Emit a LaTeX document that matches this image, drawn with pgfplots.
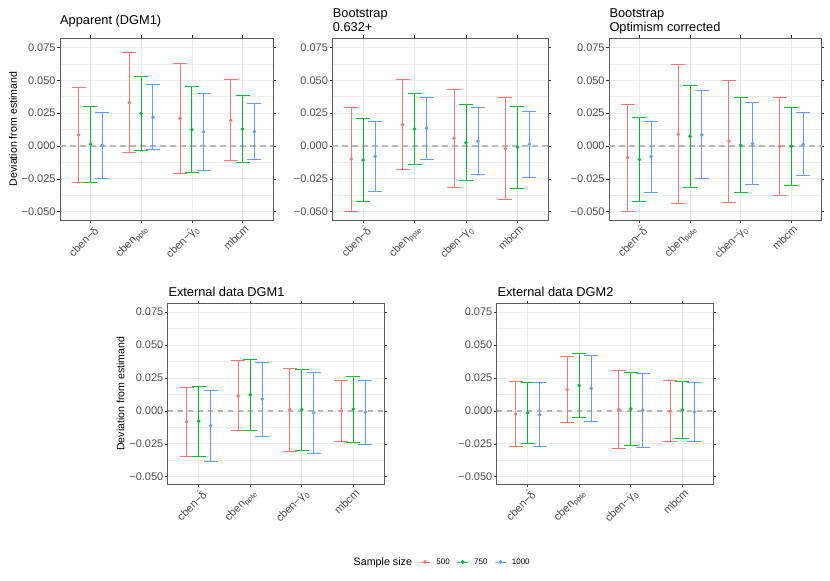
\documentclass[border=0pt]{standalone}
\usepackage{pgfplots}
\pgfplotsset{compat=1.18}
\usepackage{pgfplotstable}
\usepackage{amsmath}
\usepackage{fontspec}
\setmainfont{Liberation Sans}
\definecolor{c500}{HTML}{F8766D}
\definecolor{c750}{HTML}{00BA38}
\definecolor{c1000}{HTML}{619CFF}
\definecolor{grey92}{HTML}{EBEBEB}
\definecolor{grey20}{HTML}{333333}
\definecolor{grey30}{HTML}{4D4D4D}
\definecolor{zline}{HTML}{B8B8B8}

% columns: category, then (estimate, lower, upper) for n = 500, 750, 1000
\pgfplotstableread{
c y1 l1 h1 y2 l2 h2 y3 l3 h3
1 0.0084 -0.0274 0.0442 0.0013 -0.0274 0.0297 0.0005 -0.0244 0.0254
2 0.0330 -0.0046 0.0708 0.0246 -0.0036 0.0525 0.0218 -0.0030 0.0467
3 0.0211 -0.0206 0.0627 0.0124 -0.0203 0.0452 0.0107 -0.0185 0.0396
4 0.0195 -0.0112 0.0503 0.0129 -0.0124 0.0381 0.0109 -0.0104 0.0320
}\Pone
\pgfplotstableread{
c y1 l1 h1 y2 l2 h2 y3 l3 h3
1 -0.0099 -0.0495 0.0294 -0.0107 -0.0421 0.0208 -0.0079 -0.0343 0.0185
2 0.0162 -0.0180 0.0503 0.0129 -0.0137 0.0396 0.0135 -0.0104 0.0368
3 0.0058 -0.0317 0.0426 0.0025 -0.0264 0.0317 0.0036 -0.0218 0.0289
4 -0.0020 -0.0409 0.0371 -0.0010 -0.0320 0.0297 0.0013 -0.0239 0.0261
}\Ptwo
\pgfplotstableread{
c y1 l1 h1 y2 l2 h2 y3 l3 h3
1 -0.0089 -0.0497 0.0317 -0.0104 -0.0421 0.0213 -0.0079 -0.0350 0.0190
2 0.0089 -0.0439 0.0617 0.0074 -0.0312 0.0462 0.0084 -0.0251 0.0419
3 0.0036 -0.0429 0.0497 0.0005 -0.0355 0.0365 0.0018 -0.0294 0.0330
4 -0.0003 -0.0373 0.0368 -0.0003 -0.0300 0.0289 0.0013 -0.0228 0.0254
}\Pthree
\pgfplotstableread{
c y1 l1 h1 y2 l2 h2 y3 l3 h3
1 -0.0084 -0.0345 0.0175 -0.0079 -0.0345 0.0185 -0.0112 -0.0385 0.0155
2 0.0114 -0.0152 0.0380 0.0122 -0.0152 0.0390 0.0089 -0.0193 0.0370
3 0.0010 -0.0309 0.0325 0.0010 -0.0299 0.0314 -0.0015 -0.0327 0.0292
4 0.0000 -0.0233 0.0228 0.0013 -0.0243 0.0259 -0.0010 -0.0256 0.0233
}\Pfour
\pgfplotstableread{
c y1 l1 h1 y2 l2 h2 y3 l3 h3
1 -0.0025 -0.0274 0.0223 -0.0015 -0.0251 0.0218 -0.0030 -0.0274 0.0213
2 0.0162 -0.0091 0.0413 0.0193 -0.0051 0.0436 0.0170 -0.0079 0.0418
3 0.0010 -0.0289 0.0304 0.0015 -0.0264 0.0292 0.0005 -0.0281 0.0287
4 -0.0003 -0.0233 0.0228 0.0008 -0.0210 0.0223 -0.0008 -0.0233 0.0213
}\Pfive

\pgfplotsset{
  panel/.style={
    scale only axis,
    xmin=0.4, xmax=4.6,
    xtick={1,2,3,4},
    xticklabels={cben−$\hat{\text{δ}}$, cben$_{\text{ppte}}$, cben−$\hat{\text{γ}}_{\text{0}}$, mbcm},
    ytick={-0.05,-0.025,0,0.025,0.05,0.075},
    yticklabels={−0.050,−0.025,0.000,0.025,0.050,0.075},
    scaled y ticks=false,
    minor ytick={-0.0375,-0.0125,0.0125,0.0375,0.0625},
    grid=both,
    major grid style={color=grey92, line width=0.7bp},
    minor grid style={color=grey92, line width=0.4bp},
    axis line style={color=grey20!80, line width=0.7bp},
    tick style={color=grey20, line width=0.6bp},
    tick align=outside,
    major tick length=2.7bp,
    minor tick length=0pt,
    yticklabel style={font=\fontsize{11bp}{13bp}\selectfont, text=grey30, inner sep=0pt, anchor=east, xshift=-1.5bp},
    xticklabel style={font=\fontsize{11bp}{13bp}\selectfont, text=grey30, inner sep=0pt, rotate=45, anchor=north east, yshift=-1.5bp},
    ylabel style={font=\fontsize{10.6bp}{12bp}\selectfont, at={(rel axis cs:0,0.5)}, anchor=center, rotate=0, yshift=47bp},
    clip=false,
  },
  ser/.style={color=#1, only marks, mark=*, mark size=1.6bp, forget plot,
    mark options={draw=#1, fill=#1},
    error bars/.cd, y dir=both, y explicit,
    error bar style={color=#1, line width=0.95bp},
    error mark=none},
  cap/.style={color=#1, only marks, mark=-, mark size=7bp, forget plot,
    mark options={draw=#1, line width=0.95bp}},
  zero/.style={color=zline, dash pattern=on 5.5bp off 4.5bp, line width=1.4bp, forget plot},
}

% #1 table, #2 colour, #3 x offset, #4 estimate col, #5 lower col, #6 upper col
\newcommand{\oneseries}[6]{%
  \addplot[ser=#2] table[x expr=\thisrow{c}+#3, y=#4, y error plus expr=\thisrow{#6}-\thisrow{#4}, y error minus expr=\thisrow{#4}-\thisrow{#5}] {#1};
  \addplot[cap=#2] table[x expr=\thisrow{c}+#3, y=#6] {#1};
  \addplot[cap=#2] table[x expr=\thisrow{c}+#3, y=#5] {#1};
}
\newcommand{\series}[1]{%
  \addplot[zero] coordinates {(0.4,0) (4.6,0)};
  \oneseries{#1}{c500}{-0.2333}{y1}{l1}{h1}
  \oneseries{#1}{c750}{0}{y2}{l2}{h2}
  \oneseries{#1}{c1000}{0.2333}{y3}{l3}{h3}
}

\begin{document}
\begin{tikzpicture}
\path[use as bounding box] (0,0) rectangle (830bp,581bp);

\begin{axis}[panel, at={(60bp,361bp)}, anchor=south west, width=213bp, height=182bp,
  ymin=-0.0563, ymax=0.0821, ylabel={Deviation from estimand}]
\series{\Pone}
\end{axis}

\begin{axis}[panel, at={(332.3bp,361bp)}, anchor=south west, width=216bp, height=182bp,
  ymin=-0.0563, ymax=0.0821]
\series{\Ptwo}
\end{axis}

\begin{axis}[panel, at={(609bp,361bp)}, anchor=south west, width=212.7bp, height=182bp,
  ymin=-0.0563, ymax=0.0821]
\series{\Pthree}
\end{axis}

\begin{axis}[panel, at={(167.7bp,97bp)}, anchor=south west, width=216.6bp, height=180.7bp,
  ymin=-0.0555, ymax=0.0816, ylabel={Deviation from estimand}]
\series{\Pfour}
\end{axis}

\begin{axis}[panel, at={(496.7bp,97bp)}, anchor=south west, width=216.6bp, height=180.7bp,
  ymin=-0.0555, ymax=0.0816,
  legend style={at={(-0.262,-0.4317)}, anchor=center, draw=none, fill=none,
    font=\fontsize{8bp}{9bp}\selectfont, legend columns=4,
    /tikz/every odd column/.append style={column sep=3.5bp},
    /tikz/every even column/.append style={column sep=5bp}},
  legend image code/.code={\draw[mark repeat=2,mark phase=2,#1] plot coordinates {(0bp,0bp) (5.5bp,0bp) (11bp,0bp)};}]
\series{\Pfive}
\addlegendimage{empty legend}
\addlegendentry{\fontsize{10.7bp}{12bp}\selectfont Sample size\hspace{-4bp}}
\addlegendimage{color=c500, mark=*, mark size=1.5bp, line width=0.9bp}
\addlegendentry{500}
\addlegendimage{color=c750, mark=*, mark size=1.5bp, line width=0.9bp}
\addlegendentry{750}
\addlegendimage{color=c1000, mark=*, mark size=1.5bp, line width=0.9bp}
\addlegendentry{1000}
\end{axis}

\begin{scope}[every node/.style={anchor=base west, inner sep=0pt, font=\fontsize{12.8bp}{14bp}\selectfont}]
\node at (60bp,556.7bp) {Apparent (DGM1)};
\node at (332.7bp,563.3bp) {Bootstrap};
\node at (332.7bp,549.7bp) {0.632+};
\node at (609.3bp,563.3bp) {Bootstrap};
\node at (609.3bp,549.7bp) {Optimism corrected};
\node at (168.3bp,284.3bp) {External data DGM1};
\node at (497.3bp,284.3bp) {External data DGM2};
\end{scope}
\end{tikzpicture}
\end{document}
